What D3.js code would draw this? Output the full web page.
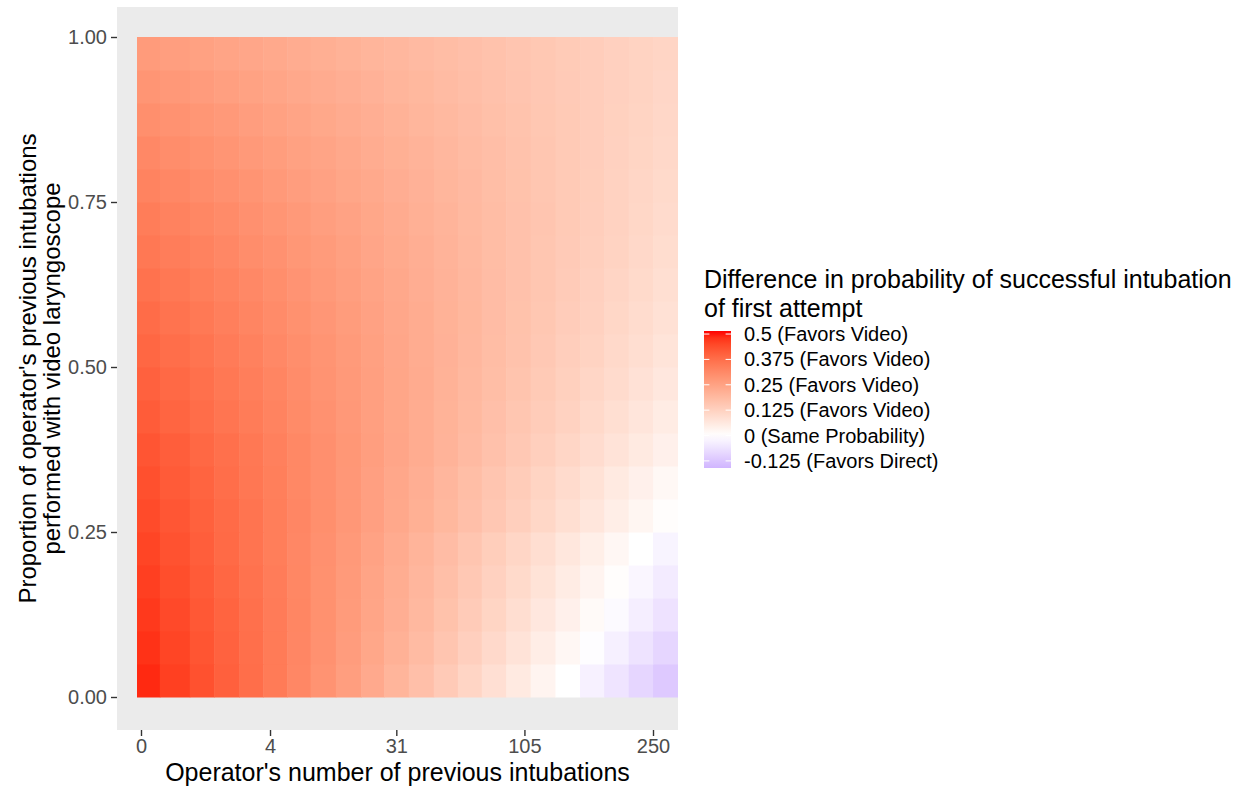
<!DOCTYPE html>
<html>
<head>
<meta charset="utf-8">
<script src="https://cdn.jsdelivr.net/npm/d3@7"></script>
<style>
  body { margin: 0; background: #fff; }
  text { font-family: "Liberation Sans", Arial, sans-serif; }
</style>
</head>
<body>
<svg id="chart" width="1247" height="786"></svg>
<script>
// operator's previous intubations (column centres) and proportion with video (row centres)
const intubations = [0, 0.1, 0.4, 1.2, 2.5, 4.5, 7.4, 11, 17, 23, 31, 41, 53, 66, 82, 100, 121, 145, 171, 200, 233, 268];
const proportions = [0.025, 0.075, 0.125, 0.175, 0.225, 0.275, 0.325, 0.375, 0.425, 0.475,
  0.525, 0.575, 0.625, 0.675, 0.725, 0.775, 0.825, 0.875, 0.925, 0.975];

// difference in probability (video - direct), one array per proportion row
const diff025 = [0.491, 0.462, 0.433, 0.404, 0.375, 0.346, 0.317, 0.289, 0.260, 0.231, 0.202, 0.173, 0.144, 0.115, 0.087, 0.058, 0.029, 0.000, -0.029, -0.058, -0.087, -0.116];
const diff075 = [0.481, 0.454, 0.427, 0.400, 0.373, 0.346, 0.319, 0.292, 0.265, 0.238, 0.211, 0.184, 0.157, 0.130, 0.103, 0.076, 0.049, 0.022, -0.005, -0.032, -0.060, -0.087];
const diff125 = [0.472, 0.447, 0.421, 0.396, 0.370, 0.345, 0.320, 0.294, 0.269, 0.243, 0.218, 0.192, 0.167, 0.141, 0.116, 0.090, 0.065, 0.040, 0.014, -0.011, -0.037, -0.062];
const diff175 = [0.463, 0.439, 0.415, 0.391, 0.367, 0.343, 0.318, 0.294, 0.270, 0.246, 0.222, 0.198, 0.174, 0.150, 0.126, 0.102, 0.078, 0.053, 0.029, 0.005, -0.019, -0.043];
const diff225 = [0.454, 0.431, 0.408, 0.385, 0.363, 0.340, 0.317, 0.295, 0.272, 0.249, 0.226, 0.204, 0.181, 0.158, 0.135, 0.113, 0.090, 0.067, 0.045, 0.022, -0.001, -0.024];
const diff275 = [0.444, 0.424, 0.403, 0.381, 0.361, 0.340, 0.319, 0.298, 0.278, 0.257, 0.235, 0.215, 0.194, 0.173, 0.152, 0.131, 0.110, 0.089, 0.069, 0.047, 0.026, 0.006];
const diff325 = [0.435, 0.415, 0.396, 0.375, 0.356, 0.337, 0.316, 0.297, 0.277, 0.257, 0.237, 0.218, 0.198, 0.178, 0.158, 0.139, 0.119, 0.099, 0.080, 0.059, 0.040, 0.020];
const diff375 = [0.426, 0.408, 0.389, 0.371, 0.353, 0.334, 0.316, 0.297, 0.279, 0.261, 0.242, 0.224, 0.205, 0.187, 0.168, 0.150, 0.132, 0.113, 0.095, 0.076, 0.058, 0.040];
const diff425 = [0.412, 0.395, 0.377, 0.360, 0.344, 0.327, 0.309, 0.292, 0.275, 0.258, 0.241, 0.224, 0.207, 0.190, 0.173, 0.156, 0.139, 0.122, 0.105, 0.088, 0.070, 0.053];
const diff475 = [0.402, 0.386, 0.370, 0.354, 0.338, 0.322, 0.306, 0.289, 0.274, 0.258, 0.241, 0.226, 0.209, 0.193, 0.178, 0.161, 0.146, 0.129, 0.113, 0.098, 0.081, 0.065];
const diff525 = [0.391, 0.375, 0.361, 0.345, 0.331, 0.315, 0.300, 0.285, 0.270, 0.255, 0.240, 0.225, 0.210, 0.195, 0.180, 0.165, 0.150, 0.134, 0.120, 0.104, 0.090, 0.074];
const diff575 = [0.379, 0.365, 0.351, 0.336, 0.323, 0.308, 0.294, 0.280, 0.266, 0.252, 0.237, 0.224, 0.209, 0.196, 0.181, 0.167, 0.153, 0.138, 0.125, 0.110, 0.096, 0.082];
const diff625 = [0.367, 0.353, 0.340, 0.327, 0.314, 0.300, 0.287, 0.274, 0.260, 0.248, 0.234, 0.221, 0.208, 0.195, 0.181, 0.168, 0.155, 0.141, 0.128, 0.115, 0.102, 0.088];
const diff675 = [0.354, 0.341, 0.330, 0.317, 0.304, 0.292, 0.279, 0.268, 0.255, 0.242, 0.230, 0.218, 0.206, 0.193, 0.180, 0.169, 0.156, 0.144, 0.131, 0.120, 0.107, 0.094];
const diff725 = [0.342, 0.330, 0.318, 0.307, 0.295, 0.283, 0.272, 0.261, 0.249, 0.238, 0.226, 0.214, 0.203, 0.191, 0.180, 0.168, 0.157, 0.145, 0.133, 0.122, 0.110, 0.099];
const diff775 = [0.328, 0.317, 0.306, 0.295, 0.285, 0.274, 0.263, 0.252, 0.241, 0.232, 0.221, 0.210, 0.199, 0.189, 0.178, 0.167, 0.156, 0.146, 0.135, 0.124, 0.113, 0.102];
const diff825 = [0.314, 0.304, 0.294, 0.284, 0.274, 0.264, 0.254, 0.245, 0.235, 0.225, 0.215, 0.205, 0.195, 0.185, 0.176, 0.166, 0.156, 0.146, 0.136, 0.126, 0.116, 0.106];
const diff875 = [0.299, 0.290, 0.281, 0.272, 0.263, 0.254, 0.245, 0.236, 0.227, 0.218, 0.209, 0.199, 0.190, 0.181, 0.172, 0.163, 0.154, 0.145, 0.136, 0.127, 0.118, 0.109];
const diff925 = [0.284, 0.275, 0.267, 0.259, 0.251, 0.243, 0.235, 0.226, 0.218, 0.210, 0.202, 0.194, 0.185, 0.177, 0.168, 0.160, 0.152, 0.144, 0.136, 0.128, 0.120, 0.111];
const diff975 = [0.268, 0.261, 0.254, 0.246, 0.239, 0.232, 0.224, 0.217, 0.209, 0.202, 0.195, 0.187, 0.180, 0.173, 0.165, 0.158, 0.151, 0.143, 0.136, 0.128, 0.121, 0.114];

const xTicks = [0, 4, 31, 105, 250];
const yTicks = [0, 0.25, 0.5, 0.75, 1];
const legendBreaks = [0.5, 0.375, 0.25, 0.125, 0, -0.125];
const legendLabels = ["0.5 (Favors Video)", "0.375 (Favors Video)", "0.25 (Favors Video)",
  "0.125 (Favors Video)", "0 (Same Probability)", "-0.125 (Favors Direct)"];

const diffRows = [diff025, diff075, diff125, diff175, diff225, diff275, diff325, diff375, diff425, diff475,
  diff525, diff575, diff625, diff675, diff725, diff775, diff825, diff875, diff925, diff975];
const cells = [];
proportions.forEach((p, r) => {
  intubations.forEach((n, c) => cells.push({ n, c, p, v: diffRows[r][c] }));
});

const svg = d3.select("#chart");

// panel
const panel = { left: 117, right: 678, top: 7, bottom: 730 };
const tileLeft = 137, tileRight = 678, rowHalf = 0.025;

const x = d3.scalePow().exponent(1 / 3).domain([0, 250]).range([141, 653]);
const y = d3.scaleLinear().domain([0, 1]).range([697, 37]);

const color = d3.scaleLinear()
  .domain([-0.515, 0, 0.515])
  .range(["blue", "white", "red"])
  .interpolate(d3.interpolateLab);

svg.append("rect")
  .attr("x", panel.left).attr("y", panel.top)
  .attr("width", panel.right - panel.left)
  .attr("height", panel.bottom - panel.top)
  .attr("fill", "#EBEBEB");

// column edges halfway between neighbouring centres
const cx = intubations.map(d => x(d));
const edgeL = cx.map((v, i) => i === 0 ? tileLeft : (cx[i - 1] + v) / 2);
const edgeR = cx.map((v, i) => i === cx.length - 1 ? tileRight : (cx[i + 1] + v) / 2);

svg.append("g")
  .selectAll("rect")
  .data(cells)
  .enter()
  .append("rect")
  .attr("x", d => edgeL[d.c])
  .attr("width", d => edgeR[d.c] - edgeL[d.c] + (d.c === cx.length - 1 ? 0 : 0.5))
  .attr("y", d => y(d.p + rowHalf))
  .attr("height", d => y(d.p - rowHalf) - y(d.p + rowHalf) + 0.5)
  .attr("fill", d => color(d.v));

// axes
const xAxis = svg.append("g")
  .attr("transform", "translate(0," + panel.bottom + ")")
  .call(d3.axisBottom(x).tickValues(xTicks).tickFormat(d3.format("d")).tickSize(6).tickPadding(3));

const yAxis = svg.append("g")
  .attr("transform", "translate(" + panel.left + ",0)")
  .call(d3.axisLeft(y).tickValues(yTicks).tickFormat(d3.format(".2f")).tickSize(6).tickPadding(4));

[xAxis, yAxis].forEach(a => {
  a.select(".domain").remove();
  a.selectAll("line").attr("stroke", "#333333").attr("stroke-width", 1.4);
  a.selectAll("text")
    .style("font-family", "'Liberation Sans', Arial, sans-serif")
    .style("font-size", "20px")
    .attr("fill", "#4D4D4D");
});

// axis titles
svg.append("text")
  .attr("x", (panel.left + panel.right) / 2)
  .attr("y", 781)
  .attr("text-anchor", "middle")
  .style("font-size", "25px")
  .text("Operator's number of previous intubations");

const yTitle = svg.append("text")
  .attr("transform", "translate(36," + (panel.top + panel.bottom) / 2 + ") rotate(-90)")
  .attr("text-anchor", "middle")
  .style("font-size", "24px");
yTitle.append("tspan").attr("x", 0).attr("dy", 0).text("Proportion of operator's previous intubations");
yTitle.append("tspan").attr("x", 0).attr("dy", 23.5).text("performed with video laryngoscope");

// legend
const legX = 704, legW = 27, legTop = 331, legBottom = 468;
const legScale = d3.scaleLinear().domain([0.515, -0.16]).range([legTop, legBottom]);

svg.append("text")
  .attr("x", legX).attr("y", 288)
  .style("font-size", "25px")
  .text("Difference in probability of successful intubation");
svg.append("text")
  .attr("x", legX).attr("y", 317)
  .style("font-size", "25px")
  .text("of first attempt");

const grad = svg.append("defs").append("linearGradient")
  .attr("id", "legGrad")
  .attr("x1", 0).attr("y1", 0).attr("x2", 0).attr("y2", 1);
d3.range(0, 1.0001, 0.05).forEach(t => {
  const v = legScale.invert(legTop + t * (legBottom - legTop));
  grad.append("stop").attr("offset", t).attr("stop-color", color(v));
});

svg.append("rect")
  .attr("x", legX).attr("y", legTop)
  .attr("width", legW).attr("height", legBottom - legTop)
  .attr("fill", "url(#legGrad)");

const legTicks = svg.append("g").selectAll("g")
  .data(legendBreaks)
  .enter()
  .append("g");

legTicks.append("line")
  .attr("x1", legX).attr("x2", legX + 5.4)
  .attr("y1", d => legScale(d)).attr("y2", d => legScale(d))
  .attr("stroke", "white").attr("stroke-width", 1);
legTicks.append("line")
  .attr("x1", legX + legW - 5.4).attr("x2", legX + legW)
  .attr("y1", d => legScale(d)).attr("y2", d => legScale(d))
  .attr("stroke", "white").attr("stroke-width", 1);
legTicks.append("text")
  .attr("x", legX + legW + 13)
  .attr("y", d => legScale(d))
  .attr("dy", "0.35em")
  .style("font-size", "20px")
  .text((d, i) => legendLabels[i]);
</script>
</body>
</html>
